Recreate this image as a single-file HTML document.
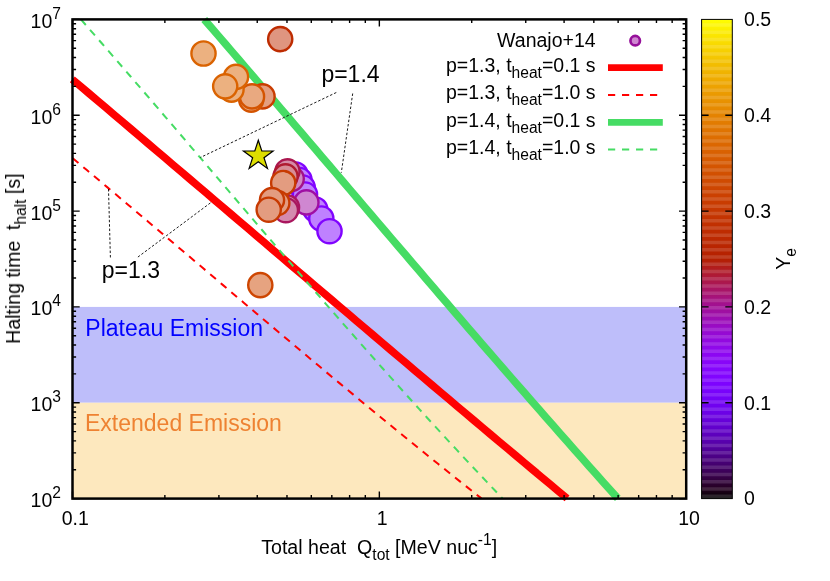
<!DOCTYPE html>
<html><head><meta charset="utf-8"><title>chart</title><style>html,body{margin:0;padding:0;background:#fff}body{width:830px;height:581px;overflow:hidden}</style></head><body>
<svg width="830" height="581" viewBox="0 0 830 581" style="display:block;font-family:'Liberation Sans',sans-serif">
<rect width="830" height="581" fill="#fff"/>
<g opacity="0.999">
<rect x="72.5" y="306.92" width="613.70" height="95.84" fill="#bebefa"/>
<rect x="72.5" y="402.76" width="613.70" height="95.84" fill="#fde8be"/>
<clipPath id="cp"><rect x="69.0" y="15.899999999999999" width="620.7" height="486.20000000000005"/></clipPath>
<g clip-path="url(#cp)" fill="none">
<path d="M72.29,79.30 L80.69,86.40 L89.09,93.51 L97.48,100.61 L105.87,107.71 L114.25,114.82 L122.63,121.92 L131.00,129.02 L139.37,136.13 L147.73,143.23 L156.09,150.33 L164.45,157.44 L172.80,164.54 L181.15,171.64 L189.50,178.75 L197.85,185.85 L206.19,192.95 L214.53,200.06 L222.87,207.16 L231.21,214.26 L239.55,221.37 L247.89,228.47 L256.22,235.57 L264.56,242.68 L272.90,249.78 L281.24,256.88 L289.57,263.99 L297.91,271.09 L306.26,278.19 L314.60,285.30 L322.94,292.40 L331.29,299.51 L339.64,306.61 L347.99,313.71 L356.35,320.82 L364.70,327.92 L373.07,335.02 L381.43,342.13 L389.80,349.23 L398.18,356.33 L406.56,363.44 L414.94,370.54 L423.33,377.64 L431.73,384.75 L440.13,391.85 L448.54,398.95 L456.95,406.06 L465.37,413.16 L473.80,420.26 L482.24,427.37 L490.68,434.47 L499.13,441.57 L507.59,448.68 L516.06,455.78 L524.53,462.88 L533.02,469.99 L541.51,477.09 L550.02,484.19 L558.53,491.30 L567.06,498.40" stroke="#ff0000" stroke-width="7.6"/>
<path d="M72.73,158.30 L79.64,164.06 L86.54,169.83 L93.42,175.59 L100.30,181.36 L107.17,187.12 L114.02,192.89 L120.87,198.65 L127.71,204.42 L134.55,210.18 L141.38,215.94 L148.20,221.71 L155.01,227.47 L161.83,233.24 L168.63,239.00 L175.44,244.77 L182.24,250.53 L189.04,256.29 L195.84,262.06 L202.64,267.82 L209.44,273.59 L216.23,279.35 L223.03,285.12 L229.84,290.88 L236.64,296.65 L243.45,302.41 L250.26,308.17 L257.08,313.94 L263.90,319.70 L270.72,325.47 L277.56,331.23 L284.40,337.00 L291.25,342.76 L298.10,348.53 L304.97,354.29 L311.84,360.05 L318.73,365.82 L325.62,371.58 L332.53,377.35 L339.45,383.11 L346.39,388.88 L353.33,394.64 L360.29,400.41 L367.27,406.17 L374.26,411.93 L381.27,417.70 L388.29,423.46 L395.33,429.23 L402.39,434.99 L409.47,440.76 L416.56,446.52 L423.68,452.28 L430.82,458.05 L437.98,463.81 L445.16,469.58 L452.36,475.34 L459.59,481.11 L466.84,486.87 L474.11,492.64 L481.41,498.40" stroke="#ff0000" stroke-width="2" stroke-dasharray="7.46,6.375"/>
<path d="M204.25,19.40 L211.26,27.52 L218.25,35.64 L225.24,43.76 L232.22,51.87 L239.19,59.99 L246.15,68.11 L253.11,76.23 L260.06,84.35 L267.01,92.47 L273.95,100.59 L280.89,108.71 L287.82,116.82 L294.75,124.94 L301.68,133.06 L308.61,141.18 L315.53,149.30 L322.45,157.42 L329.37,165.54 L336.29,173.65 L343.20,181.77 L350.12,189.89 L357.04,198.01 L363.96,206.13 L370.88,214.25 L377.81,222.37 L384.73,230.48 L391.66,238.60 L398.59,246.72 L405.53,254.84 L412.47,262.96 L419.42,271.08 L426.37,279.20 L433.32,287.32 L440.29,295.43 L447.26,303.55 L454.24,311.67 L461.22,319.79 L468.21,327.91 L475.21,336.03 L482.23,344.15 L489.25,352.26 L496.28,360.38 L503.32,368.50 L510.37,376.62 L517.43,384.74 L524.51,392.86 L531.60,400.98 L538.70,409.09 L545.81,417.21 L552.94,425.33 L560.08,433.45 L567.24,441.57 L574.41,449.69 L581.60,457.81 L588.80,465.93 L596.02,474.04 L603.26,482.16 L610.51,490.28 L617.78,498.40" stroke="#46dc64" stroke-width="7.6"/>
<path d="M80.90,19.40 L88.02,27.52 L95.12,35.64 L102.20,43.76 L109.26,51.87 L116.31,59.99 L123.34,68.11 L130.36,76.23 L137.36,84.35 L144.36,92.47 L151.34,100.59 L158.31,108.71 L165.28,116.82 L172.24,124.94 L179.19,133.06 L186.13,141.18 L193.08,149.30 L200.01,157.42 L206.95,165.54 L213.89,173.65 L220.82,181.77 L227.76,189.89 L234.70,198.01 L241.64,206.13 L248.58,214.25 L255.53,222.37 L262.49,230.48 L269.46,238.60 L276.43,246.72 L283.41,254.84 L290.40,262.96 L297.41,271.08 L304.43,279.20 L311.46,287.32 L318.50,295.43 L325.56,303.55 L332.64,311.67 L339.74,319.79 L346.85,327.91 L353.99,336.03 L361.14,344.15 L368.32,352.26 L375.52,360.38 L382.75,368.50 L390.00,376.62 L397.28,384.74 L404.58,392.86 L411.91,400.98 L419.28,409.09 L426.67,417.21 L434.09,425.33 L441.55,433.45 L449.04,441.57 L456.57,449.69 L464.13,457.81 L471.73,465.93 L479.37,474.04 L487.04,482.16 L494.76,490.28 L502.51,498.40" stroke="#46dc64" stroke-width="2" stroke-dasharray="7.46,6.375"/>
</g>
<circle cx="295.5" cy="174.5" r="12.1" fill="#bf81ff" stroke="#8004ff" stroke-width="2.4"/>
<circle cx="299.5" cy="180" r="12.1" fill="#bf81ff" stroke="#8004ff" stroke-width="2.4"/>
<circle cx="302.7" cy="187.5" r="12.1" fill="#bf81ff" stroke="#8004ff" stroke-width="2.4"/>
<circle cx="305" cy="194.5" r="12.1" fill="#bf81ff" stroke="#8004ff" stroke-width="2.4"/>
<circle cx="315.3" cy="209.5" r="12.1" fill="#bf81ff" stroke="#8004ff" stroke-width="2.4"/>
<circle cx="321.3" cy="218.5" r="12.1" fill="#bf81ff" stroke="#8004ff" stroke-width="2.4"/>
<circle cx="329.5" cy="231.2" r="12.1" fill="#bf81ff" stroke="#8004ff" stroke-width="2.4"/>
<circle cx="291.7" cy="178.8" r="12.1" fill="#d188c4" stroke="#a31289" stroke-width="2.4"/>
<circle cx="306.4" cy="202.4" r="12.1" fill="#cf87d1" stroke="#9f0fa3" stroke-width="2.4"/>
<circle cx="287" cy="207.4" r="12.1" fill="#d48aae" stroke="#a9165e" stroke-width="2.4"/>
<circle cx="285.9" cy="210.2" r="12.1" fill="#d48aae" stroke="#a9165e" stroke-width="2.4"/>
<circle cx="287.4" cy="171.3" r="12.1" fill="#d58ba7" stroke="#ab174f" stroke-width="2.4"/>
<circle cx="285.5" cy="176.4" r="12.1" fill="#d78d97" stroke="#af1a30" stroke-width="2.4"/>
<circle cx="280.2" cy="39.1" r="12.1" fill="#df9580" stroke="#be2c00" stroke-width="2.4"/>
<circle cx="283.2" cy="183" r="12.1" fill="#e39c80" stroke="#c73a00" stroke-width="2.4"/>
<circle cx="277.3" cy="203" r="12.1" fill="#e39c80" stroke="#c73a00" stroke-width="2.4"/>
<circle cx="272" cy="200.1" r="12.1" fill="#e39c80" stroke="#c73a00" stroke-width="2.4"/>
<circle cx="268.7" cy="209.7" r="12.1" fill="#e39c80" stroke="#c73a00" stroke-width="2.4"/>
<circle cx="262.5" cy="96.4" r="12.1" fill="#e49e80" stroke="#c93d00" stroke-width="2.4"/>
<circle cx="260.3" cy="285.1" r="12.1" fill="#e6a380" stroke="#ce4600" stroke-width="2.4"/>
<circle cx="251.2" cy="99.6" r="12.1" fill="#e9a980" stroke="#d45400" stroke-width="2.4"/>
<circle cx="252" cy="96.4" r="12.1" fill="#e9a980" stroke="#d45400" stroke-width="2.4"/>
<circle cx="203.5" cy="53.5" r="12.1" fill="#ecb180" stroke="#da6300" stroke-width="2.4"/>
<circle cx="231.5" cy="89.6" r="12.1" fill="#ecb180" stroke="#da6300" stroke-width="2.4"/>
<circle cx="236" cy="76.9" r="12.1" fill="#ecb180" stroke="#da6300" stroke-width="2.4"/>
<circle cx="225.2" cy="86.3" r="12.1" fill="#ecb180" stroke="#da6300" stroke-width="2.4"/>
<line x1="336.3" y1="92.5" x2="200.4" y2="157.5" stroke="#000" stroke-width="0.9" stroke-dasharray="2.5,1.9"/>
<line x1="352.7" y1="93.5" x2="341.3" y2="172.7" stroke="#000" stroke-width="0.9" stroke-dasharray="2.5,1.9"/>
<line x1="108.5" y1="189" x2="110.4" y2="257.5" stroke="#000" stroke-width="0.9" stroke-dasharray="2.5,1.9"/>
<line x1="210.4" y1="202.9" x2="137.3" y2="257.5" stroke="#000" stroke-width="0.9" stroke-dasharray="2.5,1.9"/>
<polygon points="258.30,140.20 261.80,150.98 273.14,150.98 263.97,157.64 267.47,168.42 258.30,161.76 249.13,168.42 252.63,157.64 243.46,150.98 254.80,150.98" fill="#dede00" stroke="#000" stroke-width="1.2" stroke-linejoin="miter" stroke-miterlimit="10"/>
<text x="321.4" y="82" font-size="23">p=1.4</text>
<text x="101.8" y="278" font-size="23">p=1.3</text>
<text x="85.3" y="336" font-size="23" fill="#0000ff">Plateau Emission</text>
<text x="85" y="431" font-size="23" fill="#ee8232">Extended Emission</text>
<text x="595.6" y="47" font-size="19.5" text-anchor="end">Wanajo+14</text>
<text x="595.6" y="72" font-size="19.5" text-anchor="end">p=1.3, t<tspan font-size="15.6" dy="6">heat</tspan><tspan dy="-6">=0.1 s</tspan></text>
<text x="595.6" y="99" font-size="19.5" text-anchor="end">p=1.3, t<tspan font-size="15.6" dy="6">heat</tspan><tspan dy="-6">=1.0 s</tspan></text>
<text x="595.6" y="127" font-size="19.5" text-anchor="end">p=1.4, t<tspan font-size="15.6" dy="6">heat</tspan><tspan dy="-6">=0.1 s</tspan></text>
<text x="595.6" y="154" font-size="19.5" text-anchor="end">p=1.4, t<tspan font-size="15.6" dy="6">heat</tspan><tspan dy="-6">=1.0 s</tspan></text>
<circle cx="635.2" cy="40.7" r="4.75" fill="#cf87d1" stroke="#96109a" stroke-width="2.7"/>
<line x1="608" x2="662.8" y1="67.6" y2="67.6" stroke="#ff0000" stroke-width="6.8"/>
<line x1="608" x2="662.8" y1="95.0" y2="95.0" stroke="#ff0000" stroke-width="2" stroke-dasharray="7.2,6.8"/>
<line x1="608" x2="662.8" y1="122.3" y2="122.3" stroke="#46dc64" stroke-width="6.8"/>
<line x1="608" x2="662.8" y1="149.4" y2="149.4" stroke="#46dc64" stroke-width="2" stroke-dasharray="7.2,6.8"/>
<path d="M72.5,498.60h7.2M686.2,498.60h-7.2M72.5,469.75h3.6M686.2,469.75h-3.6M72.5,452.87h3.6M686.2,452.87h-3.6M72.5,440.90h3.6M686.2,440.90h-3.6M72.5,431.61h3.6M686.2,431.61h-3.6M72.5,424.02h3.6M686.2,424.02h-3.6M72.5,417.61h3.6M686.2,417.61h-3.6M72.5,412.05h3.6M686.2,412.05h-3.6M72.5,407.15h3.6M686.2,407.15h-3.6M72.5,402.76h7.2M686.2,402.76h-7.2M72.5,373.91h3.6M686.2,373.91h-3.6M72.5,357.03h3.6M686.2,357.03h-3.6M72.5,345.06h3.6M686.2,345.06h-3.6M72.5,335.77h3.6M686.2,335.77h-3.6M72.5,328.18h3.6M686.2,328.18h-3.6M72.5,321.77h3.6M686.2,321.77h-3.6M72.5,316.21h3.6M686.2,316.21h-3.6M72.5,311.31h3.6M686.2,311.31h-3.6M72.5,306.92h7.2M686.2,306.92h-7.2M72.5,278.07h3.6M686.2,278.07h-3.6M72.5,261.19h3.6M686.2,261.19h-3.6M72.5,249.22h3.6M686.2,249.22h-3.6M72.5,239.93h3.6M686.2,239.93h-3.6M72.5,232.34h3.6M686.2,232.34h-3.6M72.5,225.93h3.6M686.2,225.93h-3.6M72.5,220.37h3.6M686.2,220.37h-3.6M72.5,215.47h3.6M686.2,215.47h-3.6M72.5,211.08h7.2M686.2,211.08h-7.2M72.5,182.23h3.6M686.2,182.23h-3.6M72.5,165.35h3.6M686.2,165.35h-3.6M72.5,153.38h3.6M686.2,153.38h-3.6M72.5,144.09h3.6M686.2,144.09h-3.6M72.5,136.50h3.6M686.2,136.50h-3.6M72.5,130.09h3.6M686.2,130.09h-3.6M72.5,124.53h3.6M686.2,124.53h-3.6M72.5,119.63h3.6M686.2,119.63h-3.6M72.5,115.24h7.2M686.2,115.24h-7.2M72.5,86.39h3.6M686.2,86.39h-3.6M72.5,69.51h3.6M686.2,69.51h-3.6M72.5,57.54h3.6M686.2,57.54h-3.6M72.5,48.25h3.6M686.2,48.25h-3.6M72.5,40.66h3.6M686.2,40.66h-3.6M72.5,34.25h3.6M686.2,34.25h-3.6M72.5,28.69h3.6M686.2,28.69h-3.6M72.5,23.79h3.6M686.2,23.79h-3.6M72.5,19.40h7.2M686.2,19.40h-7.2M72.50,498.6v-7.2M72.50,19.4v7.2M164.87,498.6v-3.6M164.87,19.4v3.6M218.90,498.6v-3.6M218.90,19.4v3.6M257.24,498.6v-3.6M257.24,19.4v3.6M286.98,498.6v-3.6M286.98,19.4v3.6M311.28,498.6v-3.6M311.28,19.4v3.6M331.82,498.6v-3.6M331.82,19.4v3.6M349.61,498.6v-3.6M349.61,19.4v3.6M365.31,498.6v-3.6M365.31,19.4v3.6M379.35,498.6v-7.2M379.35,19.4v7.2M471.72,498.6v-3.6M471.72,19.4v3.6M525.75,498.6v-3.6M525.75,19.4v3.6M564.09,498.6v-3.6M564.09,19.4v3.6M593.83,498.6v-3.6M593.83,19.4v3.6M618.13,498.6v-3.6M618.13,19.4v3.6M638.67,498.6v-3.6M638.67,19.4v3.6M656.46,498.6v-3.6M656.46,19.4v3.6M672.16,498.6v-3.6M672.16,19.4v3.6M686.20,498.6v-7.2M686.20,19.4v7.2" stroke="#000" stroke-width="1.4" fill="none"/>
<rect x="72.5" y="19.4" width="613.70" height="479.20" fill="none" stroke="#000" stroke-width="2.5"/>
<text x="52.3" y="507" font-size="19.5" text-anchor="end">10</text><text x="52.3" y="498" font-size="15.6">2</text>
<text x="52.3" y="411" font-size="19.5" text-anchor="end">10</text><text x="52.3" y="402" font-size="15.6">3</text>
<text x="52.3" y="315" font-size="19.5" text-anchor="end">10</text><text x="52.3" y="306" font-size="15.6">4</text>
<text x="52.3" y="220" font-size="19.5" text-anchor="end">10</text><text x="52.3" y="211" font-size="15.6">5</text>
<text x="52.3" y="124" font-size="19.5" text-anchor="end">10</text><text x="52.3" y="115" font-size="15.6">6</text>
<text x="52.3" y="28" font-size="19.5" text-anchor="end">10</text><text x="52.3" y="19" font-size="15.6">7</text>
<text x="75.30" y="525" font-size="19.5" text-anchor="middle">0.1</text>
<text x="382.15" y="525" font-size="19.5" text-anchor="middle">1</text>
<text x="689.00" y="525" font-size="19.5" text-anchor="middle">10</text>
<text x="379.2" y="554" font-size="19.6" text-anchor="middle" xml:space="preserve">Total heat  Q<tspan font-size="15.6" dy="6">tot</tspan><tspan dy="-6"> [MeV nuc</tspan><tspan font-size="15.6" dy="-9">-1</tspan><tspan dy="9">]</tspan></text>
<text transform="translate(20,258.6) rotate(-90)" font-size="19.5" text-anchor="middle" xml:space="preserve">Halting time  t<tspan font-size="15.6" dy="6">halt</tspan><tspan dy="-6"> [s]</tspan></text>
<defs><linearGradient id="cb" x1="0" y1="0" x2="0" y2="1"><stop offset="0.0000" stop-color="#ffff00"/><stop offset="0.0208" stop-color="#fcef00"/><stop offset="0.0417" stop-color="#fae000"/><stop offset="0.0625" stop-color="#f7d200"/><stop offset="0.0833" stop-color="#f4c400"/><stop offset="0.1042" stop-color="#f1b700"/><stop offset="0.1250" stop-color="#efab00"/><stop offset="0.1458" stop-color="#ec9f00"/><stop offset="0.1667" stop-color="#e99400"/><stop offset="0.1875" stop-color="#e68900"/><stop offset="0.2083" stop-color="#e37f00"/><stop offset="0.2292" stop-color="#e07500"/><stop offset="0.2500" stop-color="#dd6c00"/><stop offset="0.2708" stop-color="#da6300"/><stop offset="0.2917" stop-color="#d75b00"/><stop offset="0.3125" stop-color="#d35300"/><stop offset="0.3333" stop-color="#d04c00"/><stop offset="0.3542" stop-color="#cd4500"/><stop offset="0.3750" stop-color="#ca3e00"/><stop offset="0.3958" stop-color="#c63800"/><stop offset="0.4167" stop-color="#c33300"/><stop offset="0.4375" stop-color="#bf2d00"/><stop offset="0.4583" stop-color="#bc2900"/><stop offset="0.4792" stop-color="#b82400"/><stop offset="0.5000" stop-color="#b42000"/><stop offset="0.5208" stop-color="#b11c21"/><stop offset="0.5417" stop-color="#ad1942"/><stop offset="0.5625" stop-color="#a91562"/><stop offset="0.5833" stop-color="#a51280"/><stop offset="0.6042" stop-color="#a0109b"/><stop offset="0.6250" stop-color="#9c0db4"/><stop offset="0.6458" stop-color="#980bca"/><stop offset="0.6667" stop-color="#9309dd"/><stop offset="0.6875" stop-color="#8f08ec"/><stop offset="0.7083" stop-color="#8a06f6"/><stop offset="0.7292" stop-color="#8505fd"/><stop offset="0.7500" stop-color="#8004ff"/><stop offset="0.7708" stop-color="#7a03fd"/><stop offset="0.7917" stop-color="#7402f6"/><stop offset="0.8125" stop-color="#6e02ec"/><stop offset="0.8333" stop-color="#6801dd"/><stop offset="0.8542" stop-color="#6101ca"/><stop offset="0.8750" stop-color="#5a00b4"/><stop offset="0.8958" stop-color="#52009b"/><stop offset="0.9167" stop-color="#4a0080"/><stop offset="0.9375" stop-color="#400062"/><stop offset="0.9583" stop-color="#340042"/><stop offset="0.9792" stop-color="#250021"/><stop offset="1.0000" stop-color="#000000"/></linearGradient></defs>
<rect x="701.6" y="19.4" width="30.70" height="479.20" fill="url(#cb)"/>
<path d="M701.6,19.40H732.3V19.52H701.6ZM701.6,23.15H732.3V26.77H701.6ZM701.6,30.40H732.3V34.02H701.6ZM701.6,37.65H732.3V41.27H701.6ZM701.6,44.90H732.3V48.52H701.6ZM701.6,52.15H732.3V55.77H701.6ZM701.6,59.40H732.3V63.02H701.6ZM701.6,66.65H732.3V70.27H701.6ZM701.6,73.90H732.3V77.52H701.6ZM701.6,81.15H732.3V84.77H701.6ZM701.6,88.40H732.3V92.02H701.6ZM701.6,95.65H732.3V99.27H701.6ZM701.6,102.90H732.3V106.52H701.6ZM701.6,110.15H732.3V113.77H701.6ZM701.6,117.40H732.3V121.02H701.6ZM701.6,124.65H732.3V128.27H701.6ZM701.6,131.90H732.3V135.52H701.6ZM701.6,139.15H732.3V142.77H701.6ZM701.6,146.40H732.3V150.02H701.6ZM701.6,153.65H732.3V157.27H701.6ZM701.6,160.90H732.3V164.52H701.6ZM701.6,168.15H732.3V171.77H701.6ZM701.6,175.40H732.3V179.02H701.6ZM701.6,182.65H732.3V186.27H701.6ZM701.6,189.90H732.3V193.52H701.6ZM701.6,197.15H732.3V200.77H701.6ZM701.6,204.40H732.3V208.02H701.6ZM701.6,211.65H732.3V215.27H701.6ZM701.6,218.90H732.3V222.52H701.6ZM701.6,226.15H732.3V229.77H701.6ZM701.6,233.40H732.3V237.02H701.6ZM701.6,240.65H732.3V244.27H701.6ZM701.6,247.90H732.3V251.52H701.6ZM701.6,255.15H732.3V258.77H701.6ZM701.6,262.40H732.3V266.02H701.6ZM701.6,269.65H732.3V273.27H701.6ZM701.6,276.90H732.3V280.52H701.6ZM701.6,284.15H732.3V287.77H701.6ZM701.6,291.40H732.3V295.02H701.6ZM701.6,298.65H732.3V302.27H701.6ZM701.6,305.90H732.3V309.52H701.6ZM701.6,313.15H732.3V316.77H701.6ZM701.6,320.40H732.3V324.02H701.6ZM701.6,327.65H732.3V331.27H701.6ZM701.6,334.90H732.3V338.52H701.6ZM701.6,342.15H732.3V345.77H701.6ZM701.6,349.40H732.3V353.02H701.6ZM701.6,356.65H732.3V360.27H701.6ZM701.6,363.90H732.3V367.52H701.6ZM701.6,371.15H732.3V374.77H701.6ZM701.6,378.40H732.3V382.02H701.6ZM701.6,385.65H732.3V389.27H701.6ZM701.6,392.90H732.3V396.52H701.6ZM701.6,400.15H732.3V403.77H701.6ZM701.6,407.40H732.3V411.02H701.6ZM701.6,414.65H732.3V418.27H701.6ZM701.6,421.90H732.3V425.52H701.6ZM701.6,429.15H732.3V432.77H701.6ZM701.6,436.40H732.3V440.02H701.6ZM701.6,443.65H732.3V447.27H701.6ZM701.6,450.90H732.3V454.52H701.6ZM701.6,458.15H732.3V461.77H701.6ZM701.6,465.40H732.3V469.02H701.6ZM701.6,472.65H732.3V476.27H701.6ZM701.6,479.90H732.3V483.52H701.6ZM701.6,487.15H732.3V490.77H701.6ZM701.6,494.40H732.3V498.02H701.6Z" fill="#fff" fill-opacity="0.14"/>
<path d="M701.6,115.24h7M732.3,115.24h-7M701.6,211.08h7M732.3,211.08h-7M701.6,306.92h7M732.3,306.92h-7M701.6,402.76h7M732.3,402.76h-7" stroke="#000" stroke-width="1.3" fill="none"/>
<rect x="701.6" y="19.4" width="30.70" height="479.20" fill="none" stroke="#000" stroke-width="1"/>
<text x="744.1" y="505" font-size="19.5">0</text>
<text x="744.1" y="410" font-size="19.5">0.1</text>
<text x="744.1" y="314" font-size="19.5">0.2</text>
<text x="744.1" y="218" font-size="19.5">0.3</text>
<text x="744.1" y="122" font-size="19.5">0.4</text>
<text x="744.1" y="26" font-size="19.5">0.5</text>
<text transform="translate(790,259) rotate(-90)" font-size="19.5" text-anchor="middle">Y<tspan font-size="15.6" dy="6">e</tspan></text>
</g>
</svg>
</body></html>
